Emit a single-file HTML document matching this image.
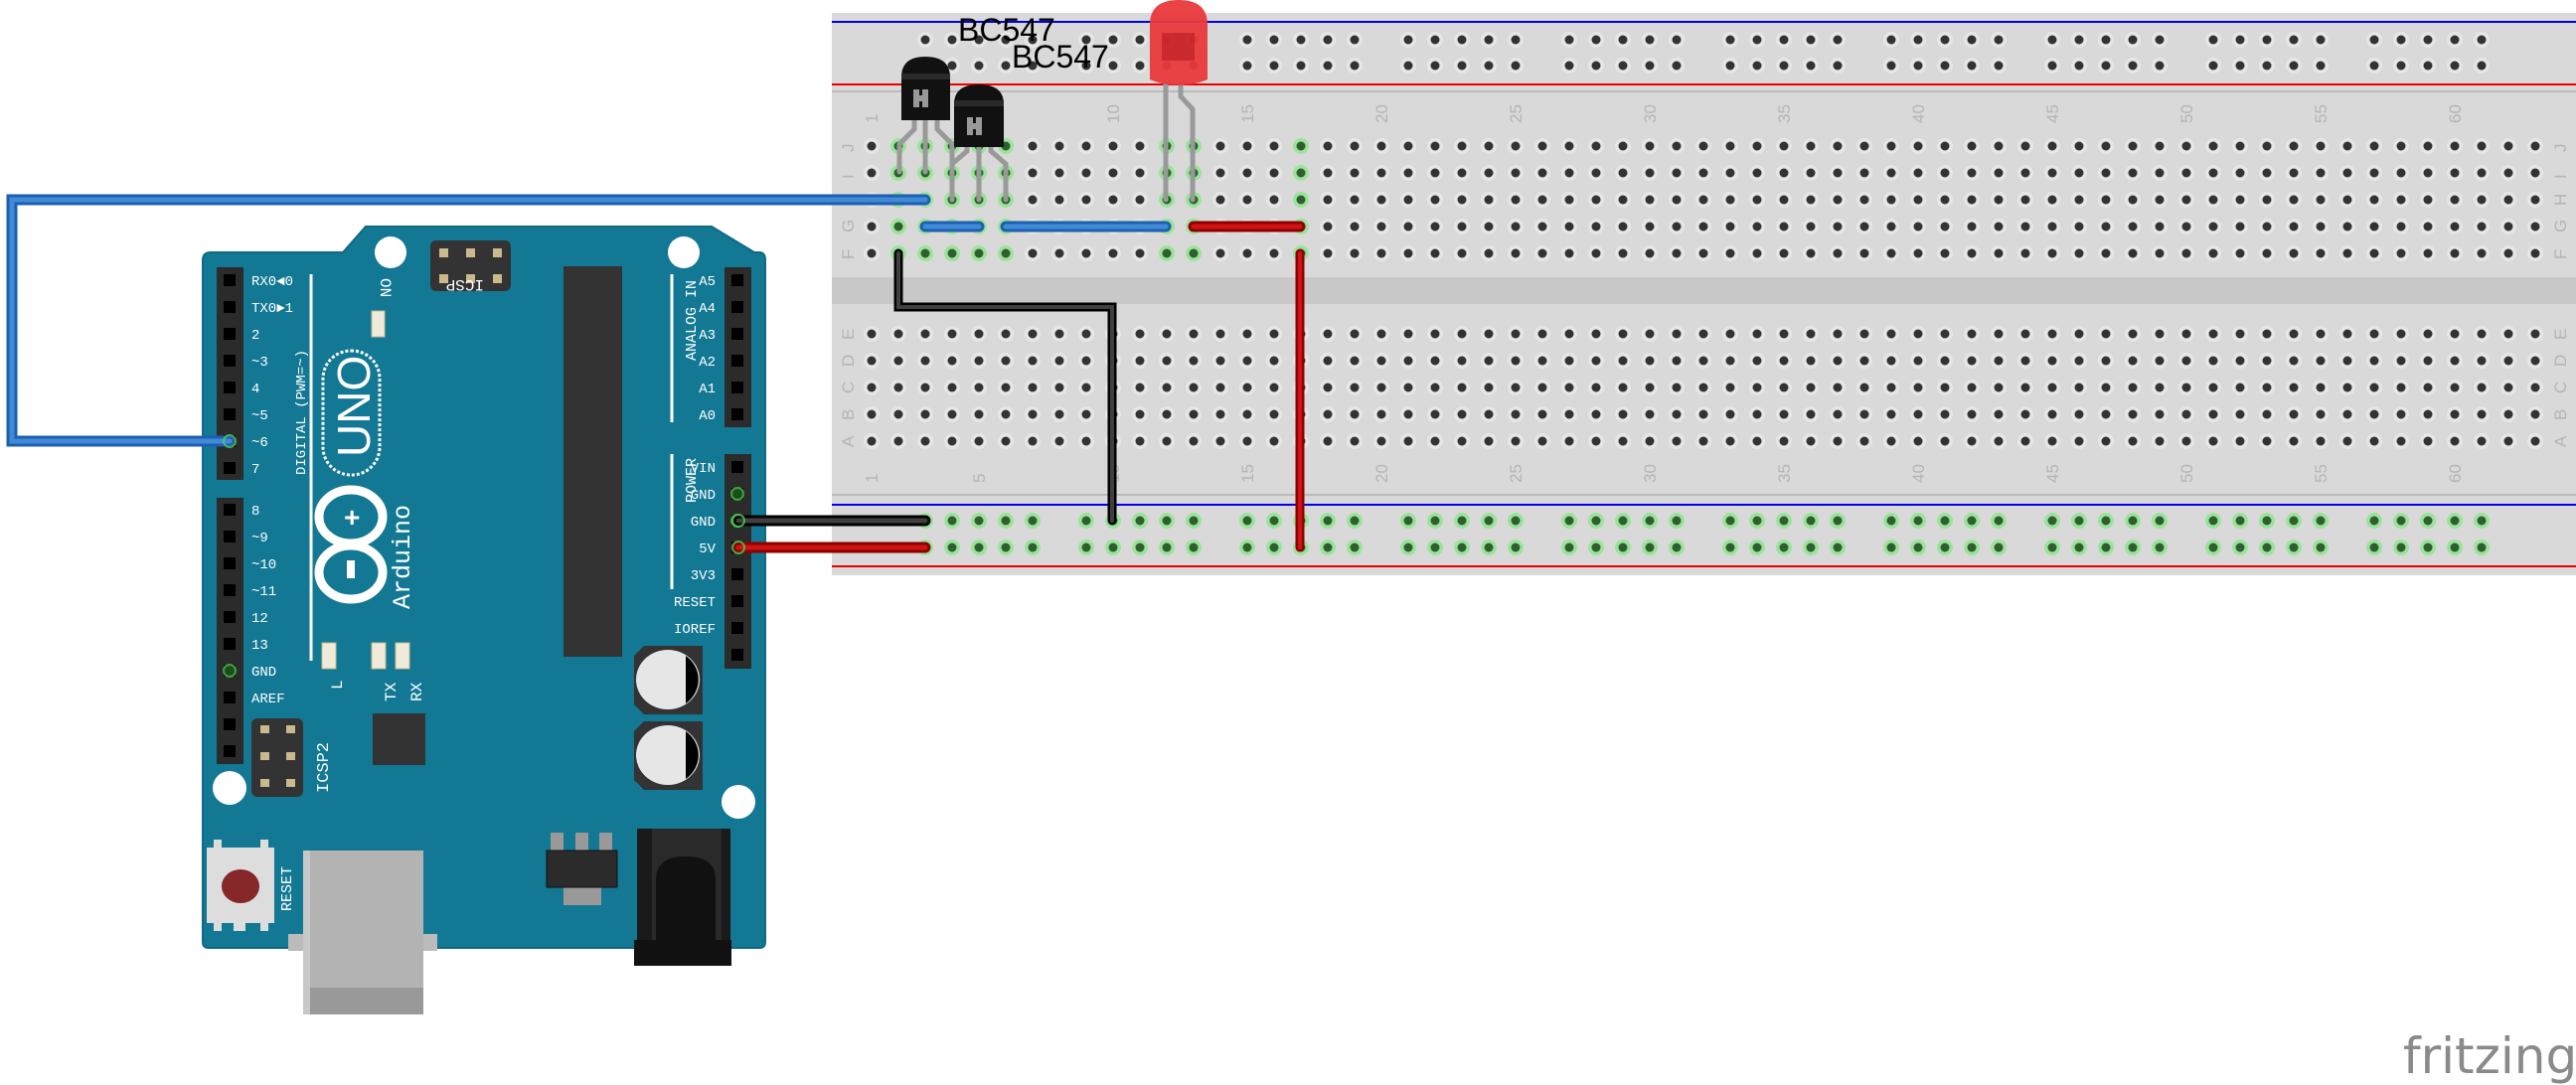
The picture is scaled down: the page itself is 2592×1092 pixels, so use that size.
<!DOCTYPE html>
<html><head><meta charset="utf-8">
<style>
html,body{margin:0;padding:0;background:#fff;}
svg{display:block;font-family:"Liberation Sans",sans-serif;}
</style></head>
<body>
<svg id="s" width="2592" height="1092" viewBox="0 0 2592 1092" xmlns="http://www.w3.org/2000/svg">
<rect x="837" y="13" width="1755" height="566" fill="#d9d9d9"/>
<rect x="837" y="279" width="1755" height="27" fill="#c8c8c8"/>
<line x1="837" y1="22" x2="2592" y2="22" stroke="#0000ee" stroke-width="2"/>
<line x1="837" y1="85" x2="2592" y2="85" stroke="#ee0000" stroke-width="2"/>
<line x1="837" y1="92" x2="2592" y2="92" stroke="#bbb" stroke-width="2"/>
<line x1="837" y1="498" x2="2592" y2="498" stroke="#bbb" stroke-width="2"/>
<line x1="837" y1="508" x2="2592" y2="508" stroke="#0000ee" stroke-width="2"/>
<line x1="837" y1="570" x2="2592" y2="570" stroke="#ee0000" stroke-width="2"/>
<g id="holes"></g>
<g id="labels" fill="#b5b5b5" font-size="17"></g>

<path d="M204,262 Q204,254 212,254 L345,254 L368,228 L716,228 L759,254 L764,254 Q770,254 770,262 L770,948 Q770,954 764,954 L210,954 Q204,954 204,948 Z" fill="#127893" stroke="#0f6a82" stroke-width="2"/>
<circle cx="393" cy="254" r="16" fill="#fff"/>
<circle cx="688" cy="254" r="16" fill="#fff"/>
<circle cx="231" cy="793" r="17" fill="#fff"/>
<circle cx="743" cy="807" r="17" fill="#fff"/>
<rect x="218" y="269" width="27" height="214" fill="#2b2b2b"/>
<rect x="218" y="501" width="27" height="268" fill="#2b2b2b"/>
<rect x="729" y="269" width="27" height="161" fill="#2b2b2b"/>
<rect x="729" y="457" width="27" height="216" fill="#2b2b2b"/>
<g id="pins"></g>
<rect x="567" y="268" width="59" height="393" fill="#333"/>
<rect x="375" y="718" width="53" height="52" fill="#333"/>
<rect x="433" y="242" width="81" height="51" rx="6" fill="#333"/>
<g fill="#c9b98c"><rect x="442" y="250" width="9" height="9"/><rect x="469" y="250" width="9" height="9"/><rect x="496" y="250" width="9" height="9"/><rect x="442" y="276" width="9" height="9"/><rect x="469" y="276" width="9" height="9"/><rect x="496" y="276" width="9" height="9"/></g>
<rect x="253" y="723" width="52" height="79" rx="6" fill="#333"/>
<g fill="#c9b98c"><rect x="262" y="730" width="9" height="8"/><rect x="288" y="730" width="9" height="8"/><rect x="262" y="757" width="9" height="8"/><rect x="288" y="757" width="9" height="8"/><rect x="262" y="784" width="9" height="8"/><rect x="288" y="784" width="9" height="8"/></g>
<rect x="374" y="313" width="13" height="26" fill="#f0eadb" stroke="#c9b98c"/>
<rect x="324" y="647" width="14" height="26" fill="#f0eadb" stroke="#c9b98c"/>
<rect x="374" y="647" width="14" height="26" fill="#f0eadb" stroke="#c9b98c"/>
<rect x="398" y="647" width="14" height="26" fill="#f0eadb" stroke="#c9b98c"/>
<g>
<path d="M648,650 L707,650 L707,719 L648,719 L638,709 L638,660 Z" fill="#333"/>
<ellipse cx="672" cy="684" rx="32" ry="30" fill="#e6e6e6"/>
<path d="M690,660 A32,30 0 0 1 690,708 Z" fill="#000"/>
<path d="M648,726 L707,726 L707,795 L648,795 L638,785 L638,736 Z" fill="#333"/>
<ellipse cx="672" cy="760" rx="32" ry="30" fill="#e6e6e6"/>
<path d="M690,736 A32,30 0 0 1 690,784 Z" fill="#000"/>
</g>
<rect x="325" y="353" width="57" height="125" rx="28" fill="none" stroke="#fff" stroke-width="3" stroke-dasharray="3,2"/>
<text transform="translate(372,460) rotate(-90)" fill="#fff" font-size="46">UNO</text>
<ellipse cx="353" cy="520" rx="32" ry="27" fill="none" stroke="#fff" stroke-width="9"/>
<ellipse cx="353" cy="576" rx="32" ry="27" fill="none" stroke="#fff" stroke-width="9"/>
<text x="346" y="530" fill="#fff" font-size="28" font-weight="bold">+</text>
<rect x="349" y="564" width="8" height="18" fill="#fff"/>
<text transform="translate(412,613) rotate(-90)" fill="#fff" font-size="25" font-family="Liberation Mono,monospace">Arduino</text>
<text transform="translate(307,478) rotate(-90)" fill="#fff" font-size="14" font-family="Liberation Mono,monospace">DIGITAL (PWM=~)</text>
<text transform="translate(700,363) rotate(-90)" fill="#fff" font-size="15" font-family="Liberation Mono,monospace">ANALOG IN</text>
<text transform="translate(700,506) rotate(-90)" fill="#fff" font-size="15" font-family="Liberation Mono,monospace">POWER</text>
<text transform="translate(330,798) rotate(-90)" fill="#fff" font-size="17" font-family="Liberation Mono,monospace">ICSP2</text>
<text transform="translate(293,917) rotate(-90)" fill="#fff" font-size="15" font-family="Liberation Mono,monospace">RESET</text>
<text transform="translate(398,706) rotate(-90)" fill="#fff" font-size="16" font-family="Liberation Mono,monospace">TX</text>
<text transform="translate(424,706) rotate(-90)" fill="#fff" font-size="16" font-family="Liberation Mono,monospace">RX</text>
<text transform="translate(344,694) rotate(-90)" fill="#fff" font-size="16" font-family="Liberation Mono,monospace">L</text>
<text transform="translate(383,280) rotate(90)" fill="#fff" font-size="16" font-family="Liberation Mono,monospace">ON</text>
<text transform="translate(487,282) rotate(180)" fill="#fff" font-size="16" font-family="Liberation Mono,monospace">ICSP</text>
<line x1="313" y1="276" x2="313" y2="665" stroke="#fff" stroke-width="3"/>
<line x1="676" y1="276" x2="676" y2="425" stroke="#fff" stroke-width="3"/>
<line x1="676" y1="457" x2="676" y2="593" stroke="#fff" stroke-width="3"/>
<g id="pinlabels" fill="#fff" font-size="14" font-family="Liberation Mono,monospace"></g>
<rect x="208" y="853" width="68" height="76" fill="#ddd"/>
<g fill="#ddd"><rect x="215" y="845" width="8" height="10"/><rect x="262" y="845" width="8" height="10"/><rect x="215" y="928" width="8" height="9"/><rect x="235" y="928" width="12" height="9"/><rect x="262" y="928" width="8" height="9"/></g>
<ellipse cx="242" cy="892" rx="19" ry="17" fill="#86272a"/>
<rect x="290" y="940" width="150" height="17" fill="#bbb"/>
<rect x="305" y="856" width="121" height="165" fill="#b3b3b3"/>
<rect x="305" y="994" width="121" height="27" fill="#999"/>
<rect x="305" y="856" width="7" height="165" fill="#c8c8c8"/>
<g fill="#999"><rect x="554" y="838" width="13" height="18"/><rect x="579" y="838" width="13" height="18"/><rect x="603" y="838" width="13" height="18"/><rect x="567" y="893" width="38" height="18"/></g>
<rect x="550" y="856" width="71" height="37" fill="#2b2b2b" stroke="#111"/>
<rect x="641" y="834" width="94" height="138" fill="#1a1a1a"/>
<rect x="656" y="834" width="70" height="124" fill="#2a2a2a"/>
<path d="M660,958 L660,885 Q660,862 690,862 Q720,862 720,885 L720,958 Z" fill="#111"/>
<rect x="638" y="946" width="98" height="26" fill="#111"/>

<g stroke="#999" stroke-width="5" fill="none" stroke-linecap="round">
<path d="M920,120 L920,130 L905,145 L905,173"/>
<path d="M931,120 L931,173"/>
<path d="M943,120 L943,130 L958,145 L958,201"/>
<path d="M973,146 L973,152 L958,165 L958,201"/>
<path d="M985,146 L985,201"/>
<path d="M997,146 L997,152 L1012,165 L1012,201"/>
<path d="M1173,85 L1173,201"/>
<path d="M1188,85 L1188,97 L1200,110 L1200,201"/>
</g>
<path d="M907,121 L907,78 Q907,57 931,57 Q956,57 956,78 L956,121 Z" fill="#111"/>
<rect x="907" y="74" width="49" height="6" fill="#2a2a2a"/>
<path d="M919,90 h6 v6 h3 v-6 h6 v18 h-6 v-6 h-3 v6 h-6 Z" fill="#999"/>
<path d="M960,148 L960,105 Q960,85 985,85 Q1010,85 1010,105 L1010,148 Z" fill="#111"/>
<rect x="960" y="101" width="50" height="6" fill="#2a2a2a"/>
<path d="M973,118 h6 v6 h3 v-6 h6 v18 h-6 v-6 h-3 v6 h-6 Z" fill="#999"/>
<path d="M1157,80 L1157,25 Q1157,0 1186,0 Q1215,0 1215,25 L1215,80 Q1186,92 1157,80 Z" fill="#e8393c" opacity="0.95"/>
<rect x="1169" y="33" width="33" height="28" fill="#c32428" opacity="0.8"/>
<text x="964" y="41" font-size="32" fill="#000">BC547</text>
<text x="1018" y="68" font-size="32" fill="#000">BC547</text>

<g stroke-linecap="round" fill="none">
<path d="M931,201 L12,201 L12,444 L231,444" stroke="#1d5fb0" stroke-width="11"/>
<path d="M931,201 L12,201 L12,444 L231,444" stroke="#418ad6" stroke-width="5"/>
<path d="M931,228 L985,228" stroke="#1d5fb0" stroke-width="11"/><path d="M931,228 L985,228" stroke="#418ad6" stroke-width="5"/>
<path d="M1012,228 L1173,228" stroke="#1d5fb0" stroke-width="11"/><path d="M1012,228 L1173,228" stroke="#418ad6" stroke-width="5"/>
<path d="M1201,228 L1308,228" stroke="#8e0000" stroke-width="11"/><path d="M1201,228 L1308,228" stroke="#cc1414" stroke-width="5"/>
<path d="M1308,255 L1308,551" stroke="#8e0000" stroke-width="9"/><path d="M1308,255 L1308,551" stroke="#cc1414" stroke-width="4"/>
<path d="M904,255 L904,309 L1119,309 L1119,524" stroke="#000" stroke-width="9"/><path d="M904,255 L904,309 L1119,309 L1119,524" stroke="#404040" stroke-width="4"/>
<path d="M743,524 L931,524" stroke="#000" stroke-width="11"/><path d="M743,524 L931,524" stroke="#404040" stroke-width="5"/>
<path d="M743,551 L931,551" stroke="#8e0000" stroke-width="11"/><path d="M743,551 L931,551" stroke="#cc1414" stroke-width="5"/>
</g>
<g fill="none" stroke="#4cd05a" stroke-width="2" opacity="0.8">
<circle cx="231" cy="444" r="6"/><circle cx="743" cy="524" r="6"/><circle cx="743" cy="551" r="6"/>
</g>
<text x="2418" y="1080" font-size="50" fill="#8a8a8a" font-family="DejaVu Sans,sans-serif">fritzing</text>
</svg>
<script>
(function(){
var NS="http://www.w3.org/2000/svg";
function el(p,t,a,txt){var e=document.createElementNS(NS,t);for(var k in a)e.setAttribute(k,a[k]);if(txt!=null)e.textContent=txt;p.appendChild(e);return e;}
var H=document.getElementById('holes');
var green={2:1,3:1,4:1,5:1,6:1,12:1,13:1,17:1};
function hole(x,y,g){
 el(H,'circle',{cx:x,cy:y,r:8,fill:g?'#9be39b':'#e6e6e6'});
 el(H,'circle',{cx:x,cy:y,r:4.5,fill:g?'#2f5e2f':'#333'});
}
var rowsTop=[147,174,201,228,255], rowsBot=[336,363,390,417,444];
for(var c=1;c<=63;c++){
 var x=877+(c-1)*27;
 rowsTop.forEach(function(y){hole(x,y,green[c]);});
 rowsBot.forEach(function(y){hole(x,y,false);});
}
for(var k=0;k<10;k++){for(var j=0;j<5;j++){var x=931+k*162+j*27;
 hole(x,40,false);hole(x,66,false);hole(x,524,true);hole(x,551,true);}}
var L=document.getElementById('labels');
[1,5,10,15,20,25,30,35,40,45,50,55,60].forEach(function(n){var x=877+(n-1)*27+6;
 el(L,'text',{transform:'translate('+x+',124) rotate(-90)'},String(n));
 el(L,'text',{transform:'translate('+x+',486) rotate(-90)'},String(n));});
var lt=['J','I','H','G','F'],lb=['E','D','C','B','A'];
lt.forEach(function(s,i){el(L,'text',{transform:'translate(859,'+(rowsTop[i]+6)+') rotate(-90)'},s);el(L,'text',{transform:'translate(2582,'+(rowsTop[i]+6)+') rotate(-90)'},s);});
lb.forEach(function(s,i){el(L,'text',{transform:'translate(859,'+(rowsBot[i]+6)+') rotate(-90)'},s);el(L,'text',{transform:'translate(2582,'+(rowsBot[i]+6)+') rotate(-90)'},s);});
var P=document.getElementById('pins');
function pin(x,y,g){el(P,'rect',{x:x-6,y:y-6,width:12,height:12,fill:'#000'});if(g)el(P,'circle',{cx:x,cy:y,r:6,fill:'#1b4d1b',stroke:'#3fa03f','stroke-width':2});}
for(var i=0;i<8;i++)pin(231,282+i*27,false);
for(var i=0;i<10;i++)pin(231,513+i*27,i==6);
for(var i=0;i<6;i++)pin(742,282+i*27,false);
for(var i=0;i<8;i++)pin(742,470+i*27,i==1||i==2);
var PL=document.getElementById('pinlabels');
var ld=['RX0◄0','TX0►1','2','~3','4','~5','~6','7'];
ld.forEach(function(s,i){el(PL,'text',{x:253,y:287+i*27},s);});
var ld2=['8','~9','~10','~11','12','13','GND','AREF'];
ld2.forEach(function(s,i){el(PL,'text',{x:253,y:518+i*27},s);});
var ra=['A5','A4','A3','A2','A1','A0'];
ra.forEach(function(s,i){el(PL,'text',{x:720,y:287+i*27,'text-anchor':'end'},s);});
var rp=['VIN','GND','GND','5V','3V3','RESET','IOREF'];
rp.forEach(function(s,i){el(PL,'text',{x:720,y:475+i*27,'text-anchor':'end'},s);});
})();
</script>
</body></html>
